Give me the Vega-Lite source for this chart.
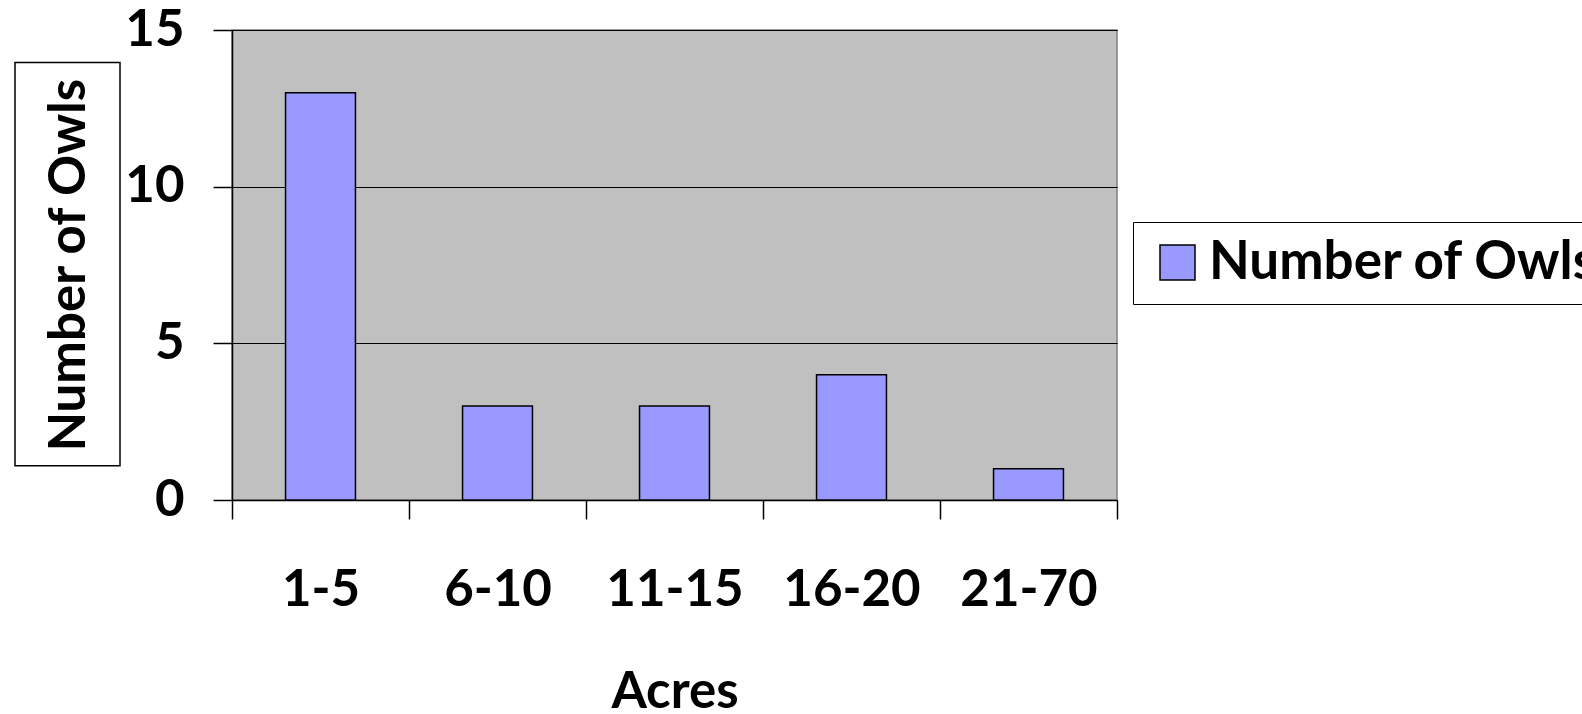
{
  "$schema": "https://vega.github.io/schema/vega-lite/v6.json",
  "padding": {"left": 14, "top": 3, "right": -30, "bottom": -8},
  "autosize": {"type": "pad"},
  "background": "white",
  "config": {
    "font": "Lato",
    "view": {"stroke": null},
    "concat": {"spacing": 3}
  },
  "datasets": {
    "owls": [
      {"acres": "1-5", "owls": 13},
      {"acres": "6-10", "owls": 3},
      {"acres": "11-15", "owls": 3},
      {"acres": "16-20", "owls": 4},
      {"acres": "21-70", "owls": 1}
    ]
  },
  "resolve": {"legend": {"color": "independent"}},
  "hconcat": [
    {
      "width": 105,
      "height": 470,
      "data": {"values": [{"title": "Number of Owls"}]},
      "layer": [
        {
          "mark": {"type": "rect", "fill": "white", "stroke": "black", "strokeWidth": 1.5},
          "encoding": {
            "y": {"datum": 13.96, "type": "quantitative", "scale": {"domain": [0, 15]}, "axis": null},
            "y2": {"datum": 1.09}
          }
        },
        {
          "mark": {"type": "text", "angle": 270, "fontSize": 51, "fontWeight": "bold", "color": "black", "align": "center", "baseline": "middle", "dy": 2},
          "encoding": {
            "text": {"field": "title"}
          }
        }
      ]
    },
    {
      "width": 885,
      "height": 470,
      "data": {"name": "owls"},
      "view": {"fill": "#C0C0C0", "stroke": "#808080", "strokeWidth": 1.5},
      "mark": {"type": "bar", "stroke": "black", "strokeWidth": 1.5, "width": {"band": 0.395}},
      "encoding": {
        "x": {
          "field": "acres",
          "type": "nominal",
          "sort": null,
          "scale": {"paddingInner": 0, "paddingOuter": 0},
          "axis": {
            "title": "Acres",
            "titleFontSize": 51,
            "titleFontWeight": "bold",
            "titleColor": "black",
            "titlePadding": 52,
            "labelFontSize": 51,
            "labelFontWeight": "bold",
            "labelColor": "black",
            "labelAngle": 0,
            "labelPadding": 46,
            "tickBand": "extent",
            "tickSize": 19,
            "tickColor": "black",
            "tickWidth": 1.5,
            "domainColor": "black",
            "domainWidth": 1.5,
            "grid": false
          }
        },
        "y": {
          "field": "owls",
          "type": "quantitative",
          "scale": {"domain": [0, 15]},
          "axis": {
            "title": null,
            "values": [0, 5, 10, 15],
            "labelFontSize": 51,
            "labelFontWeight": "bold",
            "labelColor": "black",
            "labelPadding": 29,
            "tickSize": 19,
            "tickColor": "black",
            "tickWidth": 1.5,
            "domainColor": "black",
            "domainWidth": 1.5,
            "grid": true,
            "gridColor": "black",
            "gridWidth": 1.2,
            "gridOpacity": 1
          }
        },
        "color": {
          "datum": "Number of Owls",
          "type": "nominal",
          "scale": {"range": ["#9999FF"]},
          "legend": {
            "title": null,
            "orient": "none",
            "legendX": 901,
            "legendY": 192,
            "strokeColor": "black",
            "fillColor": "white",
            "padding": 14,
            "symbolType": "square",
            "symbolSize": 1225,
            "symbolOffset": 4,
            "symbolStrokeColor": "black",
            "symbolStrokeWidth": 1.5,
            "symbolOpacity": 1,
            "labelFontSize": 53,
            "labelFontWeight": "bold",
            "labelColor": "black",
            "labelOffset": 5,
            "labelLimit": 1000
          }
        }
      }
    }
  ]
}
